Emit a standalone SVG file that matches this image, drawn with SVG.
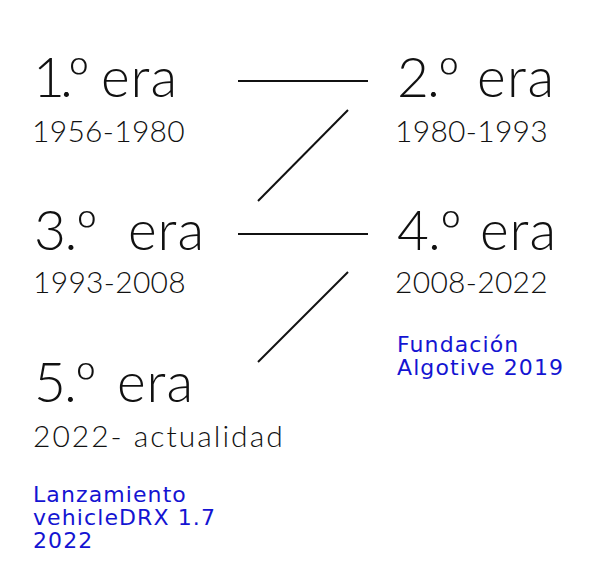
<svg xmlns="http://www.w3.org/2000/svg" width="600" height="567" viewBox="0 0 600 567">
<style>
.t{font-family:Lato,"Liberation Sans",sans-serif;font-weight:300;font-size:55px;fill:#111}
.d{font-family:Lato,"Liberation Sans",sans-serif;font-weight:300;font-size:30px;fill:#111;letter-spacing:0.3px}
.b{font-family:"DejaVu Sans",sans-serif;font-size:22px;fill:#1414d2;letter-spacing:1.1px}
.c{stroke:#111;stroke-width:2;fill:none}
</style>
<rect width="600" height="567" fill="#fff"/>
<g id="connectors">
<line class="c" x1="238" y1="81" x2="368" y2="81"/>
<line class="c" x1="348" y1="110" x2="258" y2="201"/>
<line class="c" x1="238" y1="234" x2="368" y2="234"/>
<line class="c" x1="348" y1="272" x2="258" y2="362"/>
</g>
<g id="era1">
<text class="t" x="33" y="97"><tspan textLength="57">1.º</tspan><tspan x="101" textLength="76">era</tspan></text>
<text class="d" x="32" y="142">1956-1980</text>
</g>
<g id="era2">
<text class="t" x="397" y="97"><tspan textLength="63">2.º</tspan><tspan x="477" textLength="77">era</tspan></text>
<text class="d" x="395" y="142">1980-1993</text>
</g>
<g id="era3">
<text class="t" x="34" y="250"><tspan textLength="64">3.º</tspan><tspan x="128" textLength="76">era</tspan></text>
<text class="d" x="33" y="293">1993-2008</text>
</g>
<g id="era4">
<text class="t" x="397" y="250"><tspan textLength="65">4.º</tspan><tspan x="480" textLength="76">era</tspan></text>
<text class="d" x="395" y="293">2008-2022</text>
<text class="b" x="397" y="352">Fundación</text>
<text class="b" x="397" y="375">Algotive 2019</text>
</g>
<g id="era5">
<text class="t" x="34" y="402"><tspan textLength="63">5.º</tspan><tspan x="117" textLength="76">era</tspan></text>
<text class="d" x="33" y="447" textLength="250">2022- actualidad</text>
<text class="b" x="33" y="502">Lanzamiento</text>
<text class="b" x="33" y="525">vehicleDRX 1.7</text>
<text class="b" x="33" y="548">2022</text>
</g>
</svg>
